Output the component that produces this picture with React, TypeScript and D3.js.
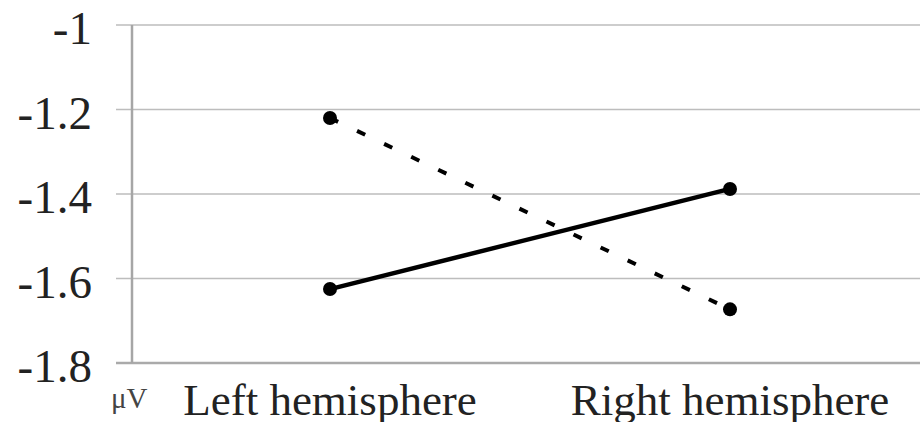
import React, { useEffect, useRef } from "react";
import * as d3 from "d3";

// categories and series values
const categories = ["Left hemisphere", "Right hemisphere"];
const solidValues = [-1.625, -1.388];
const dashedValues = [-1.22, -1.673];
const yTicks = [-1, -1.2, -1.4, -1.6, -1.8];
const yTickLabels = ["-1", "-1.2", "-1.4", "-1.6", "-1.8"];
const unitLabel = "\u03bcV";

const W = 920,
  H = 422;
const margin = { top: 25, right: 0, bottom: 59, left: 131 };

export default function App() {
  const ref = useRef<SVGSVGElement>(null);

  useEffect(() => {
    const svg = d3.select(ref.current);
    svg.selectAll("*").remove();

    const x = d3
      .scaleBand()
      .domain(categories)
      .range([margin.left - 1, margin.left - 1 + 800]);
    const y = d3
      .scaleLinear()
      .domain([-1.8, -1])
      .range([H - margin.bottom, margin.top]);

    const font = "'Liberation Serif', 'Times New Roman', serif";

    // horizontal gridlines with small ticks left of the axis
    svg
      .append("g")
      .selectAll("line")
      .data(yTicks)
      .join("line")
      .attr("x1", margin.left - 15)
      .attr("x2", W)
      .attr("y1", (d) => y(d))
      .attr("y2", (d) => y(d))
      .attr("stroke", (d) => (d === -1.8 ? "#aaa" : "#bdbdbd"))
      .attr("stroke-width", (d) => (d === -1.8 ? 2.5 : 1.5));

    // y axis line
    svg
      .append("line")
      .attr("x1", margin.left + 1)
      .attr("x2", margin.left + 1)
      .attr("y1", y(-1))
      .attr("y2", y(-1.8))
      .attr("stroke", "#a6a6a6")
      .attr("stroke-width", 2.5);

    // y tick labels
    svg
      .append("g")
      .selectAll("text")
      .data(yTicks)
      .join("text")
      .attr("x", 92)
      .attr("y", (d) => y(d) + 19)
      .attr("text-anchor", "end")
      .attr("font-family", font)
      .attr("font-size", 47)
      .attr("fill", "#222")
      .text((d, i) => yTickLabels[i]);

    // unit label
    svg
      .append("text")
      .attr("x", 111)
      .attr("y", 408)
      .attr("font-family", font)
      .attr("font-size", 29)
      .attr("fill", "#444")
      .text(unitLabel);

    // category labels
    svg
      .append("g")
      .selectAll("text")
      .data(categories)
      .join("text")
      .attr("x", (d) => x(d)! + x.bandwidth() / 2)
      .attr("y", 415)
      .attr("text-anchor", "middle")
      .attr("font-family", font)
      .attr("font-size", 45)
      .attr("fill", "#222")
      .text((d) => d);

    const line = d3
      .line<number>()
      .x((d, i) => x(categories[i])! + x.bandwidth() / 2)
      .y((d) => y(d));

    svg
      .append("path")
      .datum(dashedValues)
      .attr("d", line)
      .attr("fill", "none")
      .attr("stroke", "#000")
      .attr("stroke-width", 4)
      .attr("stroke-dasharray", "9,21");

    svg
      .append("path")
      .datum(solidValues)
      .attr("d", line)
      .attr("fill", "none")
      .attr("stroke", "#000")
      .attr("stroke-width", 4.5);

    [dashedValues, solidValues].forEach((vals) => {
      svg
        .append("g")
        .selectAll("circle")
        .data(vals)
        .join("circle")
        .attr("cx", (d, i) => x(categories[i])! + x.bandwidth() / 2)
        .attr("cy", (d) => y(d))
        .attr("r", 7)
        .attr("fill", "#000");
    });
  }, []);

  return (
    <svg
      ref={ref}
      width={W}
      height={H}
      style={{ position: "absolute", left: 0, top: 0, background: "#fff" }}
    ></svg>
  );
}
